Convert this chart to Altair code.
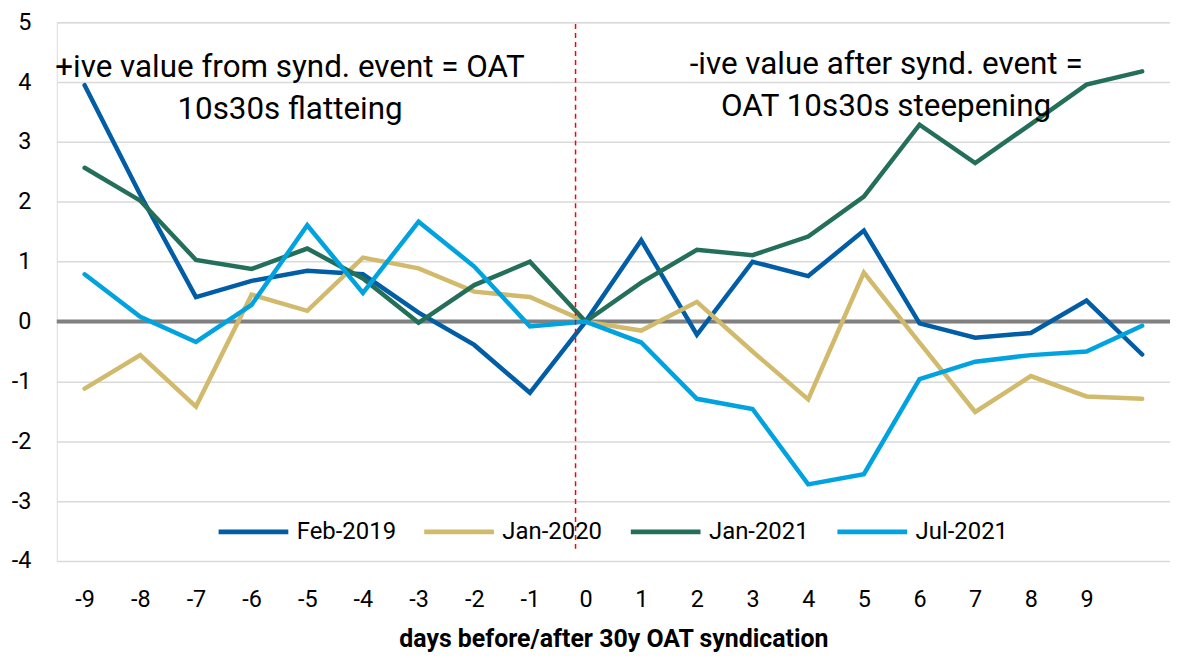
import altair as alt
import pandas as pd

FONT = "Roboto"

days = list(range(-9, 11))
tick_days = list(range(-9, 10))
series = ["Feb-2019", "Jan-2020", "Jan-2021", "Jul-2021"]
colors = ["#005DA6", "#D2BA6C", "#246F59", "#00A3E0"]

feb_2019 = [3.95, 2.12, 0.41, 0.68, 0.85, 0.79, 0.15, -0.39, -1.19, 0.0,
            1.36, -0.22, 1.0, 0.76, 1.52, -0.03, -0.27, -0.19, 0.35, -0.55]
jan_2020 = [-1.12, -0.56, -1.42, 0.45, 0.18, 1.07, 0.89, 0.5, 0.41, 0.0,
            -0.15, 0.33, -0.5, -1.30, 0.82, -0.35, -1.51, -0.91, -1.25, -1.29]
jan_2021 = [2.57, 2.02, 1.03, 0.88, 1.22, 0.72, -0.02, 0.61, 1.0, 0.0,
            0.65, 1.2, 1.11, 1.42, 2.09, 3.29, 2.65, 3.3, 3.96, 4.18]
jul_2021 = [0.79, 0.08, -0.34, 0.28, 1.61, 0.48, 1.67, 0.92, -0.08, 0.0,
            -0.35, -1.29, -1.46, -2.72, -2.55, -0.96, -0.67, -0.56, -0.5, -0.07]

values_by_series = [feb_2019, jan_2020, jan_2021, jul_2021]

rows = []
for name, vals in zip(series, values_by_series):
    for d, v in zip(days, vals):
        rows.append({"day": d, "value": v, "series": name})
df = pd.DataFrame(rows)

# annotation texts (two lines each)
ann_text = ["+ive value from synd. event = OAT", "10s30s flatteing",
            "-ive value after synd. event =", "OAT 10s30s steepening"]
ann_day = [-5.31, -5.31, 5.40, 5.40]
ann_value = [4.08, 3.38, 4.13, 3.43]
ann_df = pd.DataFrame({"day": ann_day, "value": ann_value, "text": ann_text})

zero_df = pd.DataFrame({"value": [0]})
event_df = pd.DataFrame({"day": [-0.18], "value": [4.97], "value2": [-3.83]})

x_enc = alt.X(
    "day:Q",
    scale=alt.Scale(domain=[-9.5, 10.5], nice=False, zero=False),
    axis=alt.Axis(
        values=tick_days,
        labelExpr="'' + datum.value",
        grid=False, ticks=False, domain=False,
        labelFontSize=23.5, labelColor="#000000", labelFont=FONT, labelPadding=27,
        title="days before/after 30y OAT syndication",
        titleFont=FONT, titleFontSize=25, titleFontWeight="bold", titleColor="#000000",
        titlePadding=15,
    ),
)
y_enc = alt.Y(
    "value:Q",
    scale=alt.Scale(domain=[-4, 5], nice=False, zero=False),
    axis=alt.Axis(
        values=list(range(-4, 6)),
        labelExpr="'' + datum.value",
        grid=True, gridColor="#d9d9d9", gridWidth=1.5,
        ticks=False, domain=False,
        labelFontSize=23.5, labelColor="#000000", labelFont=FONT, labelPadding=26,
        title=None,
    ),
)

zero_rule = alt.Chart(zero_df).mark_rule(color="#808080", strokeWidth=4).encode(y=y_enc)

lines = alt.Chart(df).mark_line(strokeWidth=4.5, strokeCap="round").encode(
    x=x_enc,
    y=y_enc,
    color=alt.Color(
        "series:N",
        scale=alt.Scale(domain=series, range=colors),
        sort=series,
        legend=alt.Legend(
            title=None, orient="none", direction="horizontal",
            legendX=160, legendY=474, padding=0,
            symbolType="stroke", symbolSize=4900, symbolStrokeWidth=5,
            labelFont=FONT, labelFontSize=24, labelColor="#000000",
            labelOffset=6, columnPadding=17.5,
        ),
    ),
)

event_rule = alt.Chart(event_df).mark_rule(color="#FF0000", strokeWidth=1.5, strokeDash=[5, 4]).encode(
    x=x_enc, y=y_enc, y2=alt.Y2("value2:Q")
)

ann = alt.Chart(ann_df).mark_text(
    font=FONT, fontSize=31.5, align="center", baseline="alphabetic", color="#000000"
).encode(x=x_enc, y=y_enc, text="text:N")

chart = alt.layer(zero_rule, lines, event_rule, ann).properties(
    width=1118, height=541,
    autosize=alt.AutoSizeParams(type="none"),
    padding={"left": 49, "top": 13, "right": 0, "bottom": 90},
).configure_view(stroke=None).configure(background="white")

chart.save("out.html", embed_options={"renderer": "svg", "actions": False})
